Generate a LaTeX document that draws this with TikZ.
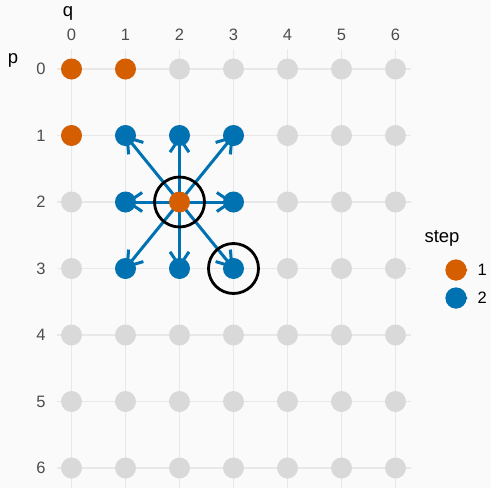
\documentclass[tikz,border=0pt]{standalone}
\usepackage{fontspec}
\setmainfont{Liberation Sans}
\usetikzlibrary{arrows.meta}
\definecolor{bg}{HTML}{FAFAFA}
\definecolor{gridc}{HTML}{E8E8E8}
\definecolor{ptgrey}{HTML}{D9D9D9}
\definecolor{orangec}{HTML}{D55E00}
\definecolor{bluec}{HTML}{0072B2}
\definecolor{axtext}{HTML}{4D4D4D}
\tikzset{
  gpt/.style={circle,fill=ptgrey,inner sep=0pt,minimum size=21pt},
  opt/.style={circle,fill=orangec,inner sep=0pt,minimum size=21pt},
  bpt/.style={circle,fill=bluec,inner sep=0pt,minimum size=21pt},
  gridline/.style={draw=gridc,line width=1.4pt},
  arr/.style={draw=bluec,line width=3pt,-{Straight Barb[length=14pt,width=19pt,line width=3pt]}},
  keyarr/.style={line width=2pt,-{Straight Barb[length=3pt,width=7pt,line width=2pt]}},
  ring/.style={draw=black,line width=2.8pt,circle,minimum size=50pt,inner sep=0pt},
  ticklab/.style={text=axtext,font=\fontsize{16.5}{18}\selectfont},
  axlab/.style={text=black,font=\fontsize{18.5}{20}\selectfont}
}
\begin{document}
\begin{tikzpicture}[x=1pt,y=1pt]
\fill[bg] (0,0) rectangle (491,-488);
\useasboundingbox (0,0) rectangle (491,-488);
% grid lines
\foreach \q in {0,...,6} {
  \draw[gridline] ({71.5+54*\q},-49) -- ({71.5+54*\q},-488);
}
\foreach \p in {0,...,6} {
  \draw[gridline] (57,{-(69+66.5*\p)}) -- (411,{-(69+66.5*\p)});
}
% tick labels
\foreach \q in {0,...,6} {
  \node[ticklab] (qt\q) at ({71.5+54*\q},-35) {\q};
}
\foreach \p in {0,...,6} {
  \node[ticklab] (pt\p) at (41,{-(69+66.5*\p)}) {\p};
}
\node[axlab] (qlab) at (68,-13) {q};
\node[axlab] (plab) at (13,-60) {p};
% grey points
\foreach \p in {0,...,6} {
  \foreach \q in {0,...,6} {
    \node[gpt] (g\p\q) at ({71.5+54*\q},{-(69+66.5*\p)}) {};
  }
}
% arrows
\foreach \t in {11,12,13,21,23,31,32,33} {
  \draw[arr] (g22.center) -- (g\t.center);
}
% coloured points
\foreach \t in {00,01,10,22} {
  \node[opt] (o\t) at (g\t.center) {};
}
\foreach \t in {11,12,13,21,23,31,32,33} {
  \node[bpt] (b\t) at (g\t.center) {};
}
% rings
\node[ring] (r22) at (g22.center) {};
\node[ring] (r33) at (g33.center) {};
% legend
\node[axlab,anchor=west] (leg) at (421,-238) {step};
\coordinate (k1) at (467.5,-270);
\coordinate (k2) at (467.5,-298);
\node[opt] (l1) at (456,-270) {};
\node[bpt] (l2) at (456,-298) {};
\draw[keyarr,draw=orangec] (l1.center) -- (k1);
\draw[keyarr,draw=bluec] (l2.center) -- (k2);
\node[opt] at (l1.center) {};
\node[bpt] at (l2.center) {};
\node[ticklab,text=black,anchor=west] (l1t) at (474,-270) {1};
\node[ticklab,text=black,anchor=west] (l2t) at (474,-298) {2};
\end{tikzpicture}
\end{document}
